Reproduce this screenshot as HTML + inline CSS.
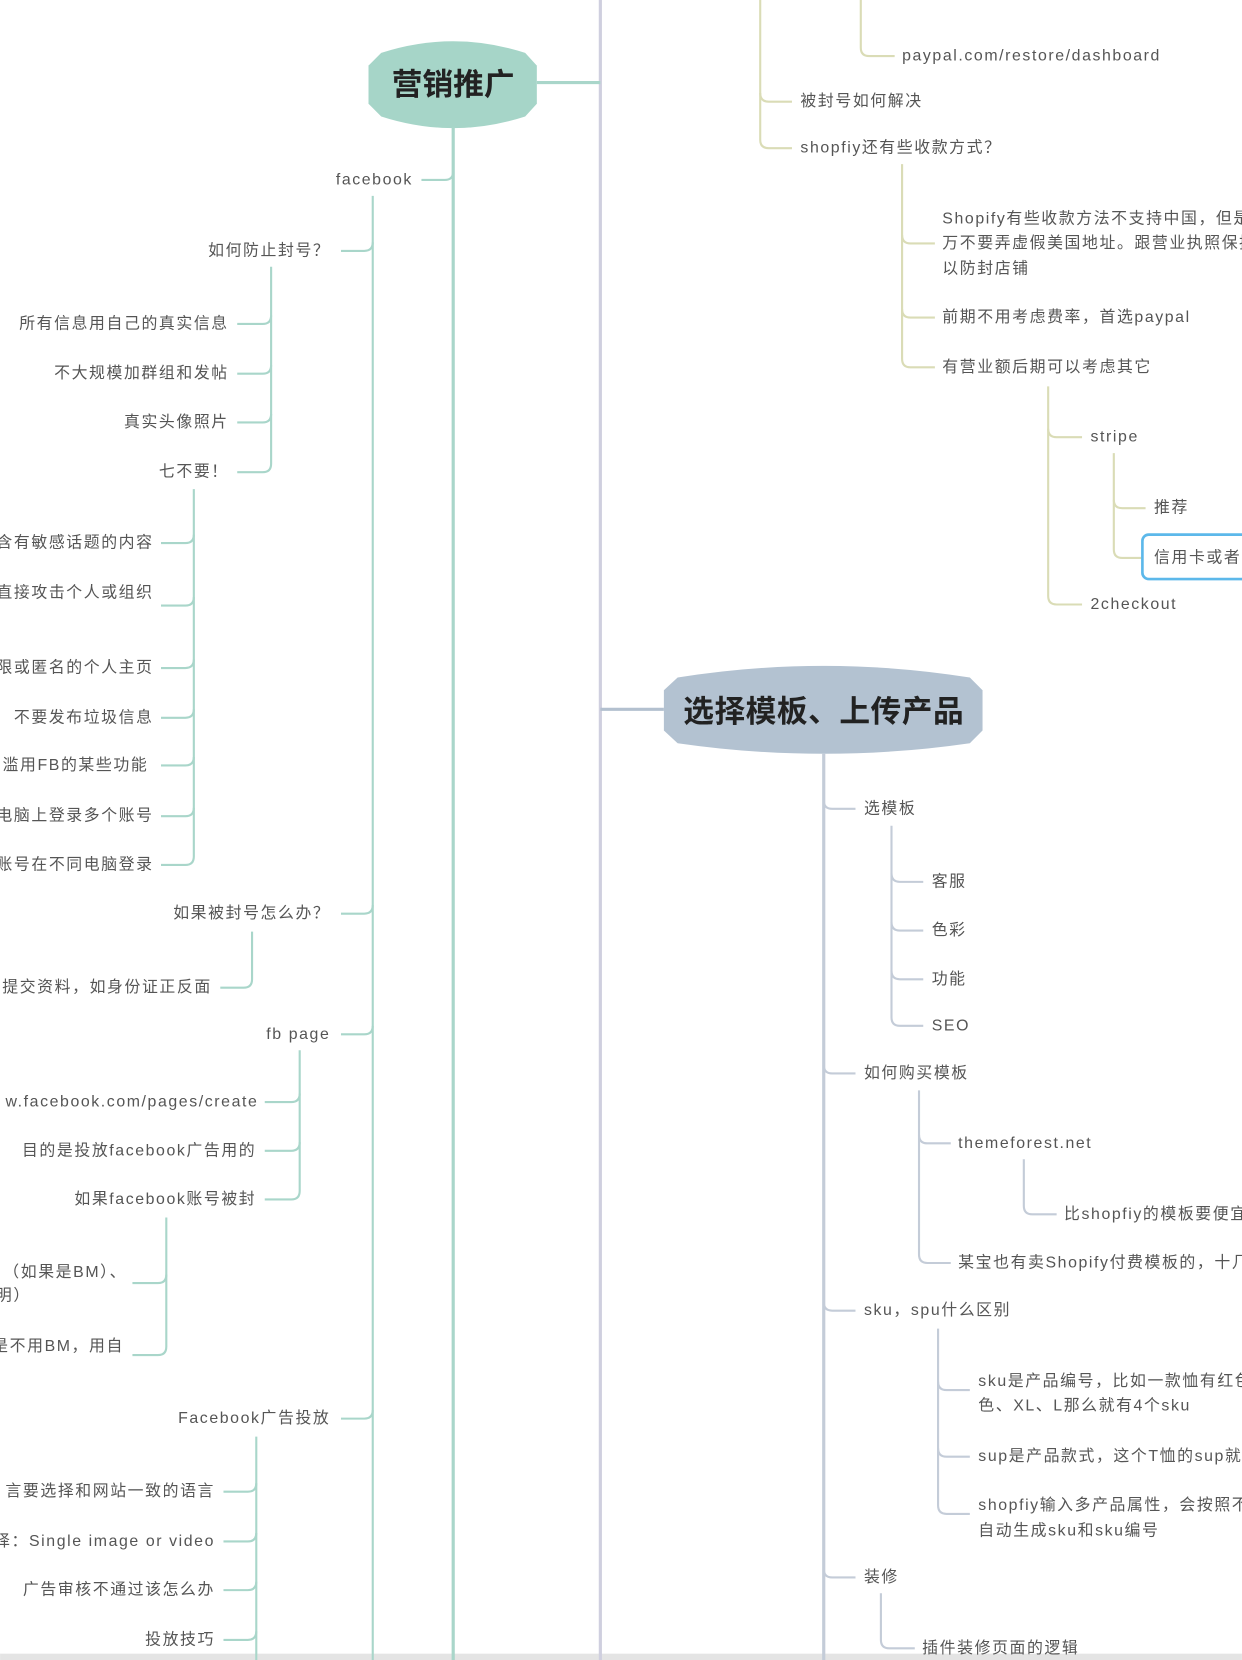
<!DOCTYPE html>
<html><head><meta charset="utf-8"><style>
html,body{margin:0;padding:0;background:#fff;width:1242px;height:1660px;overflow:hidden}
svg{display:block}
text{font-family:"Liberation Sans","Noto Sans CJK SC",sans-serif;font-size:15px;fill:#555;dominant-baseline:central;letter-spacing:1.5px}
.e{text-anchor:end}
.t{stroke:#a9d6ca;stroke-width:2;fill:none}
.y{stroke:#dadcb6;stroke-width:2;fill:none}
.g{stroke:#c4ccd8;stroke-width:2;fill:none}
</style></head><body>
<svg width="1242" height="1660" viewBox="0 0 1173 1568" xmlns="http://www.w3.org/2000/svg">
<rect x="0" y="1562" width="1173" height="6" fill="#e4e4e4"/>
<line x1="567" y1="0" x2="567" y2="1568" stroke="#cfcfdf" stroke-width="3"/>
<line x1="507" y1="78" x2="567" y2="78" stroke="#a9d6ca" stroke-width="3"/>
<line x1="567" y1="670" x2="627" y2="670" stroke="#b3c0cf" stroke-width="3"/>

<path d="M360 50 Q428 28 496 50 L507 62 V98 L496 110 Q428 132 360 110 L348 98 V62 Z" fill="#a6d5c8"/>
<text x="428" y="80" style="font-size:29px;font-weight:bold;fill:#222;text-anchor:middle;letter-spacing:0">营销推广</text>
<line x1="428" y1="120" x2="428" y2="1568" stroke="#a9d6ca" stroke-width="3"/>
<path class="t" d="M398 170 H420 Q428 170 428 162"/>
<text class="e" x="390" y="170">facebook</text>

<line class="t" x1="352" y1="185" x2="352" y2="1568"/>
<path class="t" d="M322 237 H344 Q352 237 352 229"/>
<path class="t" d="M322 863 H344 Q352 863 352 855"/>
<path class="t" d="M322 977 H344 Q352 977 352 969"/>
<path class="t" d="M322 1340 H344 Q352 1340 352 1332"/>
<text class="e" x="312" y="237">如何防止封号？</text>
<text class="e" x="312" y="863">如果被封号怎么办？</text>
<text class="e" x="312" y="977">fb page</text>
<text class="e" x="312" y="1340">Facebook广告投放</text>

<path class="t" d="M256 252 V438 Q256 446 248 446 H224"/>
<path class="t" d="M224 306 H248 Q256 306 256 298"/>
<path class="t" d="M224 353 H248 Q256 353 256 345"/>
<path class="t" d="M224 399 H248 Q256 399 256 391"/>
<text class="e" x="216" y="306">所有信息用自己的真实信息</text>
<text class="e" x="216" y="353">不大规模加群组和发帖</text>
<text class="e" x="216" y="399">真实头像照片</text>
<text class="e" x="216" y="446">七不要！</text>

<path class="t" d="M183 462 V809 Q183 817 175 817 H152"/>
<path class="t" d="M152 513 H175 Q183 513 183 505"/>
<path class="t" d="M152 572 H175 Q183 572 183 564"/>
<path class="t" d="M152 631 H175 Q183 631 183 623"/>
<path class="t" d="M152 678 H175 Q183 678 183 670"/>
<path class="t" d="M152 723 H175 Q183 723 183 715"/>
<path class="t" d="M152 771 H175 Q183 771 183 763"/>
<text class="e" x="145" y="513">含有敏感话题的内容</text>
<text class="e" x="145" y="560">直接攻击个人或组织</text>
<text class="e" x="145" y="631">限或匿名的个人主页</text>
<text class="e" x="145" y="678">不要发布垃圾信息</text>
<text class="e" x="140" y="723">滥用FB的某些功能</text>
<text class="e" x="145" y="771">电脑上登录多个账号</text>
<text class="e" x="145" y="817">账号在不同电脑登录</text>

<path class="t" d="M238 880 V925 Q238 933 230 933 H208"/>
<text class="e" x="200" y="933">提交资料，如身份证正反面</text>

<path class="t" d="M283 992 V1125 Q283 1133 275 1133 H250"/>
<path class="t" d="M250 1041 H275 Q283 1041 283 1033"/>
<path class="t" d="M250 1087 H275 Q283 1087 283 1079"/>
<text class="e" x="244" y="1041">w.facebook.com/pages/create</text>
<text class="e" x="242" y="1087">目的是投放facebook广告用的</text>
<text class="e" x="242" y="1133">如果facebook账号被封</text>

<path class="t" d="M157 1150 V1272 Q157 1280 149 1280 H125"/>
<path class="t" d="M125 1212 H149 Q157 1212 157 1204"/>
<text class="e" x="120" y="1202">（如果是BM）、</text>
<text x="-4" y="1224">明）</text>
<text class="e" x="117" y="1272">是不用BM，用自</text>

<line class="t" x1="242" y1="1357" x2="242" y2="1568"/>
<path class="t" d="M211 1409 H234 Q242 1409 242 1401"/>
<path class="t" d="M211 1456 H234 Q242 1456 242 1448"/>
<path class="t" d="M211 1502 H234 Q242 1502 242 1494"/>
<path class="t" d="M211 1549 H234 Q242 1549 242 1541"/>
<text class="e" x="203" y="1409">言要选择和网站一致的语言</text>
<text class="e" x="203" y="1456">择：Single image or video</text>
<text class="e" x="203" y="1502">广告审核不通过该怎么办</text>
<text class="e" x="203" y="1549">投放技巧</text>

<path class="y" d="M718 0 V132 Q718 140 726 140 H748"/>
<path class="y" d="M718 88 Q718 96 726 96 H748"/>
<text x="756" y="96">被封号如何解决</text>
<text x="756" y="140">shopfiy还有些收款方式？</text>
<path class="y" d="M813 0 V45 Q813 53 821 53 H845"/>
<text x="852" y="53">paypal.com/restore/dashboard</text>

<path class="y" d="M852 155 V339 Q852 347 860 347 H883"/>
<path class="y" d="M852 222 Q852 230 860 230 H883"/>
<path class="y" d="M852 292 Q852 300 860 300 H883"/>
<text x="890" y="207">Shopify有些收款方法不支持中国，但是千</text>
<text x="890" y="230">万不要弄虚假美国地址。跟营业执照保持一致</text>
<text x="890" y="254">以防封店铺</text>
<text x="890" y="300">前期不用考虑费率，首选paypal</text>
<text x="890" y="347">有营业额后期可以考虑其它</text>

<path class="y" d="M990 365 V563 Q990 571 998 571 H1022"/>
<path class="y" d="M990 405 Q990 413 998 413 H1022"/>
<text x="1030" y="413">stripe</text>
<text x="1030" y="571">2checkout</text>
<path class="y" d="M1052 428 V519 Q1052 527 1060 527 H1078"/>
<path class="y" d="M1052 472 Q1052 480 1060 480 H1082"/>
<text x="1090" y="480">推荐</text>
<rect x="1079" y="505" width="110" height="42" rx="6" fill="#fff" stroke="#5cb8ea" stroke-width="2.5"/>
<text x="1090" y="527">信用卡或者</text>

<path d="M640 640 Q778 618 916 640 L928 652 V690 L916 702 Q778 722 640 702 L627 690 V652 Z" fill="#b3c2d1"/>
<text x="778" y="672" style="font-size:29px;font-weight:bold;fill:#222;text-anchor:middle;letter-spacing:0.5px">选择模板、上传产品</text>
<line x1="778" y1="712" x2="778" y2="1568" stroke="#c4ccd8" stroke-width="3"/>
<path class="g" d="M778 756 Q778 764 786 764 H808"/>
<path class="g" d="M778 1006 Q778 1014 786 1014 H808"/>
<path class="g" d="M778 1230 Q778 1238 786 1238 H808"/>
<path class="g" d="M778 1482 Q778 1490 786 1490 H808"/>
<text x="816" y="764">选模板</text>
<text x="816" y="1014">如何购买模板</text>
<text x="816" y="1238">sku，spu什么区别</text>
<text x="816" y="1490">装修</text>

<path class="g" d="M842 780 V961 Q842 969 850 969 H872"/>
<path class="g" d="M842 825 Q842 833 850 833 H872"/>
<path class="g" d="M842 871 Q842 879 850 879 H872"/>
<path class="g" d="M842 917 Q842 925 850 925 H872"/>
<text x="880" y="833">客服</text>
<text x="880" y="879">色彩</text>
<text x="880" y="925">功能</text>
<text x="880" y="969">SEO</text>

<path class="g" d="M868 1030 V1185 Q868 1193 876 1193 H898"/>
<path class="g" d="M868 1072 Q868 1080 876 1080 H898"/>
<text x="905" y="1080">themeforest.net</text>
<text x="905" y="1193">某宝也有卖Shopify付费模板的，十几</text>
<path class="g" d="M967 1095 V1139 Q967 1147 975 1147 H998"/>
<text x="1005" y="1147">比shopfiy的模板要便宜</text>

<path class="g" d="M886 1255 V1422 Q886 1430 894 1430 H916"/>
<path class="g" d="M886 1305 Q886 1313 894 1313 H916"/>
<path class="g" d="M886 1368 Q886 1376 894 1376 H916"/>
<text x="924" y="1305">sku是产品编号，比如一款恤有红色</text>
<text x="924" y="1328">色、XL、L那么就有4个sku</text>
<text x="924" y="1376">sup是产品款式，这个T恤的sup就是</text>
<text x="924" y="1422">shopfiy输入多产品属性，会按照不</text>
<text x="924" y="1446">自动生成sku和sku编号</text>

<path class="g" d="M832 1505 V1549 Q832 1557 840 1557 H864"/>
<text x="871" y="1557">插件装修页面的逻辑</text>
</svg>
</body></html>
